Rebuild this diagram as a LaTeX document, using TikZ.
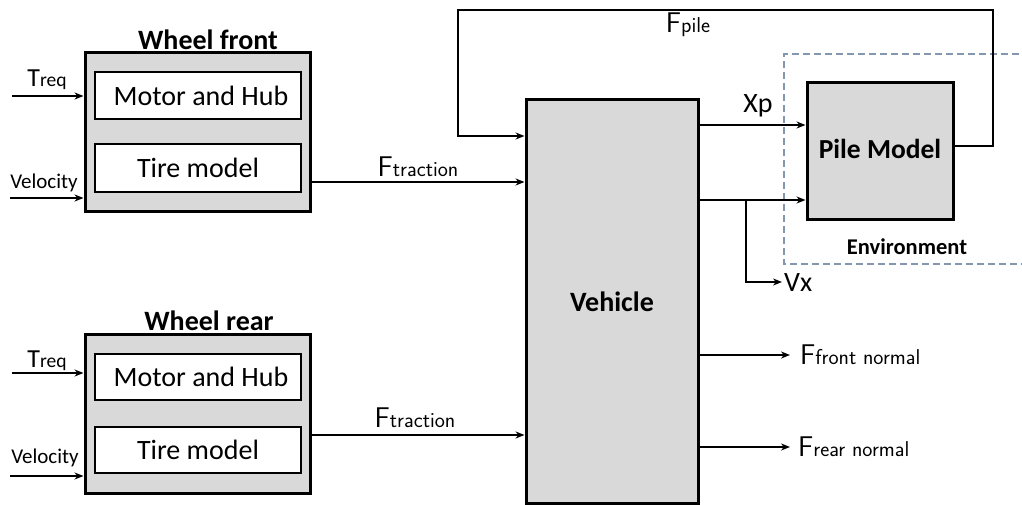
\documentclass[tikz,border=0pt]{standalone}
\usepackage{fontspec}
\setmainfont{Carlito}
\usetikzlibrary{arrows.meta}
\definecolor{boxgray}{HTML}{D9D9D9}
\definecolor{envblue}{HTML}{8497B0}
\newcommand{\fs}[1]{\fontsize{#1}{#1}\selectfont}
\newcommand{\bigsmall}[2]{{\sffamily\fs{28.5}#1\fs{21.5}#2}}
\tikzset{
  outerbox/.style={draw=black, line width=3pt, fill=boxgray, inner sep=0pt},
  innerbox/.style={draw=black, line width=2.2pt, fill=white, inner sep=0pt, font=\fs{28}},
  arr/.style={line width=2.5pt, -{Stealth[length=9pt,width=7pt]}},
  lbl/.style={inner sep=0pt},
}
\begin{document}
\begin{tikzpicture}[x=1pt,y=-1pt]
\useasboundingbox (0,0) rectangle (1022,505);
% environment
\draw[envblue, line width=1.6pt, dash pattern=on 7pt off 4pt] (1030,54) -- (784,54) -- (784,264) -- (1030,264);
\node[lbl, font=\bfseries\fs{22.5}] (envl) at (907,247) {Environment};
% wheel front
\node[outerbox, minimum width=225pt, minimum height=158pt] (wf) at (197.5,132) {};
\node[innerbox, minimum width=206pt, minimum height=47pt] (wfm) at (198,95.5) {\hspace*{6pt}Motor and Hub};
\node[innerbox, minimum width=206pt, minimum height=48pt] (wft) at (198,168) {Tire model};
\node[lbl, font=\bfseries\fs{28}] (wftitle) at (208,40) {Wheel front};
% wheel rear
\node[outerbox, minimum width=225pt, minimum height=159pt] (wr) at (197.5,413.5) {};
\node[innerbox, minimum width=206pt, minimum height=46pt] (wrm) at (198,377) {\hspace*{6pt}Motor and Hub};
\node[innerbox, minimum width=206pt, minimum height=46pt] (wrt) at (198,450) {Tire model};
\node[lbl, font=\bfseries\fs{28}] (wrtitle) at (209,321) {Wheel rear};
% vehicle
\node[outerbox, minimum width=172pt, minimum height=403pt, font=\bfseries\fs{28}] (veh) at (612,301.5) {Vehicle};
% pile
\node[outerbox, minimum width=146pt, minimum height=136pt, font=\bfseries\fs{27.5}] (pile) at (880,151) {\raisebox{5pt}{Pile Model}};
% inputs front
\coordinate (tf) at (12,96);
\coordinate (vf) at (10,198);
\draw[arr] (tf) -- (tf -| wf.west);
\draw[arr] (vf) -- (vf -| wf.west);
\node[lbl] (tfl) at (47,80) {\fs{26}T\fs{19.5}req};
\node[lbl, font=\fs{21}] (vfl) at (44,183) {Velocity};
% inputs rear
\coordinate (tr) at (12,373);
\coordinate (vr) at (10,476);
\draw[arr] (tr) -- (tr -| wr.west);
\draw[arr] (vr) -- (vr -| wr.west);
\node[lbl] (trl) at (47,361) {\fs{26}T\fs{19.5}req};
\node[lbl, font=\fs{21}] (vrl) at (45,458) {Velocity};
% traction
\coordinate (ftf) at (310,182);
\draw[arr] (ftf) -- (ftf -| veh.west);
\node[lbl] (ftfl) at (418,167) {\bigsmall{F}{traction}};
\coordinate (ftr) at (310,435);
\draw[arr] (ftr) -- (ftr -| veh.west);
\node[lbl] (ftrl) at (415,418) {\bigsmall{F}{traction}};
% Fpile feedback
\coordinate (fp1) at (993,146);
\coordinate (fp2) at (993,10);
\coordinate (fp3) at (458,10);
\coordinate (fp4) at (458,136);
\draw[arr] (pile.east |- fp1) -- (fp1) -- (fp2) -- (fp3) -- (fp4) -- (fp4 -| veh.west);
\node[lbl] (fpl) at (688,25) {\bigsmall{F}{pile}};
% Xp
\coordinate (xp) at (698,125);
\draw[arr] (xp) -- (xp -| pile.west);
\node[lbl, font=\fs{28}] (xpl) at (758,106) {Xp};
% velocity out
\coordinate (vo) at (698,200);
\coordinate (vb) at (746,200);
\coordinate (vb2) at (746,282);
\coordinate (vxe) at (782,282);
\draw[arr] (vo) -- (vo -| pile.west);
\draw[arr] (vb) -- (vb2) -- (vxe);
\node[lbl, font=\fs{28}, anchor=west] (vxl) at (784,283) {Vx};
% normals
\coordinate (fn1) at (790,355);
\coordinate (fn2) at (790,447);
\draw[arr] (veh.east |- fn1) -- (fn1);
\draw[arr] (veh.east |- fn2) -- (fn2);
\node[lbl, anchor=west] (fn1l) at (800,355) {\bigsmall{F}{front normal}};
\node[lbl, anchor=west] (fn2l) at (798,447) {\bigsmall{F}{rear normal}};
\end{tikzpicture}
\end{document}
